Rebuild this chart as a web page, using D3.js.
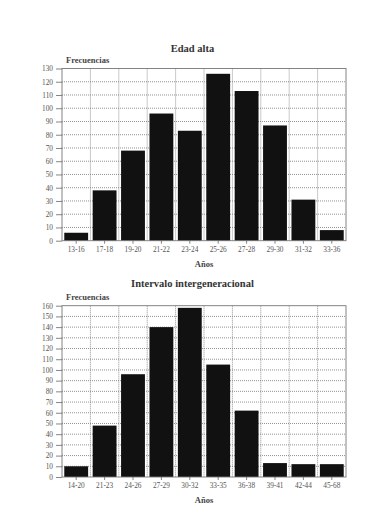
<!DOCTYPE html>
<html>
<head>
<meta charset="utf-8">
<script src="https://cdn.jsdelivr.net/npm/d3@7"></script>
<style>
  html, body { margin: 0; padding: 0; background: #fff; }
  svg { display: block; }
  text { font-family: "Liberation Serif", "DejaVu Serif", serif; }
</style>
</head>
<body>
<svg id="chart" width="374" height="532"></svg>
<script>
// Edad alta
const edadCats = ["13-16", "17-18", "19-20", "21-22", "23-24", "25-26", "27-28", "29-30", "31-32", "33-36"];
const edadVals = [6, 38, 68, 96, 83, 126, 113, 87, 31, 8];
const edadTicks = d3.range(0, 131, 10);

// Intervalo intergeneracional
const interCats = ["14-20", "21-23", "24-26", "27-29", "30-32", "33-35", "36-38", "39-41", "42-44", "45-68"];
const interVals = [10, 48, 96, 140, 158, 105, 62, 13, 12, 12];
const interTicks = d3.range(0, 161, 10);

const svg = d3.select("#chart");
const SERIF = "'Liberation Serif', 'DejaVu Serif', serif";

function drawChart(opts) {
  const { title, cats, vals, ticks, x0, x1, y0, y1, titleX, titleY } = opts;
  const g = svg.append("g");

  const x = d3.scaleBand().domain(cats).range([x0, x1]).paddingInner(0.16).paddingOuter(0.08);
  const y = d3.scaleLinear().domain([0, d3.max(ticks)]).range([y1, y0]);

  // titel
  g.append("text")
    .attr("x", titleX)
    .attr("y", titleY)
    .attr("text-anchor", "middle")
    .style("font-family", SERIF)
    .style("font-size", "10.5px")
    .style("font-weight", "700")
    .style("fill", "#333")
    .text(title);

  g.append("text")
    .attr("x", x0 + 4)
    .attr("y", y0 - 5.5)
    .style("font-family", SERIF)
    .style("font-size", "8.5px")
    .style("font-weight", "700")
    .style("fill", "#444")
    .text("Frecuencias");

  // rutnät
  const grid = g.append("g");
  ticks.forEach(t => {
    if (t === 0 || t === d3.max(ticks)) return;
    grid.append("line")
      .attr("x1", x0).attr("x2", x1)
      .attr("y1", y(t)).attr("y2", y(t))
      .attr("stroke", "#777").attr("stroke-width", 0.8)
      .attr("stroke-dasharray", "1,1");
  });
  const step = x.step();
  cats.slice(1).forEach((c, i) => {
    const bx = x0 + (i + 1) * step;
    grid.append("line")
      .attr("x1", bx).attr("x2", bx)
      .attr("y1", y0).attr("y2", y1)
      .attr("stroke", "#777").attr("stroke-width", 0.8)
      .attr("stroke-dasharray", "1,1");
  });

  // staplar
  g.selectAll("rect.bar")
    .data(vals)
    .join("rect")
    .attr("class", "bar")
    .attr("x", (d, i) => x(cats[i]))
    .attr("y", d => y(d))
    .attr("width", x.bandwidth())
    .attr("height", d => y(0) - y(d))
    .attr("fill", "#111");

  // ram
  g.append("rect")
    .attr("x", x0).attr("y", y0)
    .attr("width", x1 - x0).attr("height", y1 - y0)
    .attr("fill", "none")
    .attr("stroke", "#777").attr("stroke-width", 0.9);

  // axlar
  const yAxis = g.append("g")
    .attr("transform", `translate(${x0},0)`)
    .call(d3.axisLeft(y).tickValues(ticks).tickSize(6).tickPadding(3));
  const xAxis = g.append("g")
    .attr("transform", `translate(0,${y1})`)
    .call(d3.axisBottom(x).tickSize(3).tickPadding(3));

  [yAxis, xAxis].forEach(ax => {
    ax.attr("font-family", null);
    ax.select(".domain").remove();
    ax.selectAll(".tick line").attr("stroke", "#666").attr("stroke-width", 0.8);
    ax.selectAll(".tick text")
      .style("font-family", SERIF)
      .style("font-size", "7.3px")
      .style("fill", "#555");
  });

  g.append("text")
    .attr("x", (x0 + x1) / 2)
    .attr("y", y1 + 26)
    .attr("text-anchor", "middle")
    .style("font-family", SERIF)
    .style("font-size", "8.5px")
    .style("font-weight", "700")
    .style("fill", "#444")
    .text("Años");
}

drawChart({ title: "Edad alta", cats: edadCats, vals: edadVals, ticks: edadTicks,
  x0: 62, x1: 346, y0: 68.5, y1: 240.7, titleX: 192.5, titleY: 51.5 });
drawChart({ title: "Intervalo intergeneracional", cats: interCats, vals: interVals, ticks: interTicks,
  x0: 62, x1: 346, y0: 305.7, y1: 477, titleX: 192.5, titleY: 286.7 });
</script>
</body>
</html>
